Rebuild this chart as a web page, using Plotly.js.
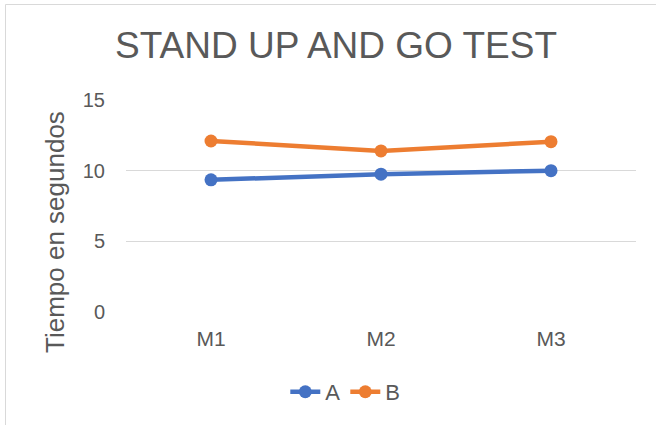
<!DOCTYPE html>
<html>
<head>
<meta charset="utf-8">
<script src="https://cdn.plot.ly/plotly-3.0.1.min.js"></script>
<style>
  html, body { margin: 0; padding: 0; background: #ffffff; }
  #chart { width: 656px; height: 425px; }
</style>
</head>
<body>
<div id="chart"></div>
<script>
const categories = ["M1", "M2", "M3"];
const seriesA = [9.35, 9.75, 10.0];
const seriesB = [12.1, 11.4, 12.05];
const yTickVals = [0, 5, 10, 15];
const chartTitle = "STAND UP AND GO TEST";
const yTitle = "Tiempo en segundos";

const textColor = "#595959";
const fontFam = "Liberation Sans, Arial, sans-serif";

const traces = [
  {
    x: categories, y: seriesA, name: "A", type: "scatter", mode: "lines+markers",
    line: { color: "#4472C4", width: 4.5 },
    marker: { color: "#4472C4", size: 13 }
  },
  {
    x: categories, y: seriesB, name: "B", type: "scatter", mode: "lines+markers",
    line: { color: "#ED7D31", width: 4.5 },
    marker: { color: "#ED7D31", size: 13 }
  }
];

const layout = {
  width: 656, height: 425,
  margin: { l: 126, r: 20, t: 100, b: 113 },
  paper_bgcolor: "#ffffff", plot_bgcolor: "#ffffff",
  font: { family: fontFam, color: textColor, size: 20 },
  title: {
    text: chartTitle,
    font: { family: fontFam, size: 37, color: textColor },
    x: 336 / 656, xanchor: "center", xref: "container",
    y: 1 - 45 / 425, yanchor: "middle", yref: "container"
  },
  xaxis: {
    type: "category", range: [-0.5, 2.5],
    showgrid: false, zeroline: false, showline: false,
    ticks: "", tickfont: { size: 21, color: textColor },
    ticklabelstandoff: 12, fixedrange: true
  },
  yaxis: {
    range: [0, 15], tickvals: yTickVals, ticktext: yTickVals.map(String),
    showgrid: true, gridcolor: "#d9d9d9", gridwidth: 1.3,
    zeroline: false, showline: false, ticks: "",
    tickfont: { size: 20, color: textColor },
    ticklabelstandoff: 20, fixedrange: true
  },
  showlegend: true,
  legend: {
    orientation: "h", x: 0.43, xanchor: "center", y: -0.377, yanchor: "middle",
    font: { size: 22, color: textColor }, bgcolor: "rgba(0,0,0,0)"
  },
  annotations: [
    {
      text: yTitle, xref: "paper", yref: "paper",
      x: (55 - 126) / 510, y: (312 - 232) / 212,
      xanchor: "center", yanchor: "middle", textangle: -90, showarrow: false,
      font: { size: 26, color: textColor, family: fontFam }
    }
  ],
  shapes: [
    {
      type: "rect", xref: "paper", yref: "paper", layer: "below",
      x0: (5.5 - 126) / 510, x1: 1.2, y0: -0.7, y1: (312 - 4.5) / 212,
      line: { color: "#d9d9d9", width: 1 }, fillcolor: "rgba(0,0,0,0)"
    }
  ]
};

Plotly.newPlot("chart", traces, layout, { displayModeBar: false, staticPlot: true });
</script>
</body>
</html>
